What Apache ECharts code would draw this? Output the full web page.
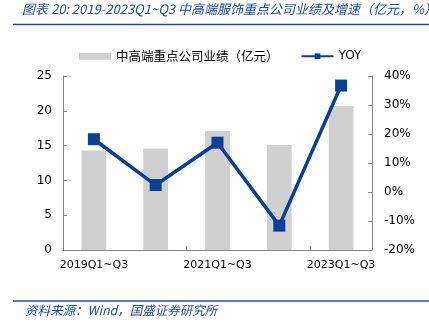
<!DOCTYPE html>
<html>
<head>
<meta charset="utf-8">
<style>
  html, body { margin: 0; padding: 0; background: #fff; }
  #chart { width: 429px; height: 326px; }
</style>
<script src="https://cdn.jsdelivr.net/npm/echarts@6/dist/echarts.min.js"></script>
</head>
<body>
<div id="chart"></div>
<script>
// Periods (Q1~Q3 of each year)
const categories = ['2019Q1~Q3', '2020Q1~Q3', '2021Q1~Q3', '2022Q1~Q3', '2023Q1~Q3'];
// Net profit of key mid/high-end apparel companies, 100 million yuan
const profit = [14.3, 14.6, 17.1, 15.1, 20.7];
// Year-over-year growth, %
const yoy = [18.2, 2.4, 17.0, -11.6, 36.7];

const leftTicks = [0, 25, 5];     // min, max, interval
const rightTicks = [-20, 40, 10];

const blue = '#0a3f96';
const headBlue = '#1f4ea0';
const axisFont = { fontFamily: 'DejaVu Sans', fontSize: 11, color: '#000' };

const chart = echarts.init(document.getElementById('chart'));
chart.setOption({
  animation: false,
  backgroundColor: '#fff',
  grid: { left: 63, right: 57, top: 76, bottom: 76 },
  legend: {
    top: 50,
    left: 79,
    padding: 0,
    itemGap: 22,
    textStyle: { fontFamily: 'Noto Sans CJK SC', fontSize: 12.5, color: '#000' },
    data: [
      { name: '中高端重点公司业绩（亿元）', icon: 'rect', itemStyle: { color: '#d0d0d0' } },
      { name: 'YOY', textStyle: { fontFamily: 'DejaVu Sans', fontSize: 12 } }
    ],
    itemWidth: 32,
    itemHeight: 7
  },
  xAxis: {
    type: 'category',
    data: categories,
    axisLine: { lineStyle: { color: '#888', width: 1 } },
    axisTick: { show: true, inside: true, length: 4, lineStyle: { color: '#888' } },
    axisLabel: { ...axisFont, interval: 1, margin: 10 }
  },
  yAxis: [
    {
      type: 'value',
      min: leftTicks[0], max: leftTicks[1], interval: leftTicks[2],
      splitLine: { show: false },
      axisLine: { show: true, lineStyle: { color: '#888' } },
      axisTick: { show: true, inside: true, length: 4, lineStyle: { color: '#888' } },
      axisLabel: { ...axisFont, fontSize: 12, margin: 11 }
    },
    {
      type: 'value',
      min: rightTicks[0], max: rightTicks[1], interval: rightTicks[2],
      splitLine: { show: false },
      axisLine: { show: true, lineStyle: { color: '#888' } },
      axisTick: { show: true, inside: true, length: 4, lineStyle: { color: '#888' } },
      axisLabel: { ...axisFont, fontSize: 12, margin: 12, formatter: '{value}%' }
    }
  ],
  series: [
    {
      name: '中高端重点公司业绩（亿元）',
      type: 'bar',
      data: profit,
      barWidth: '40%',
      itemStyle: { color: '#d0d0d0' }
    },
    {
      name: 'YOY',
      type: 'line',
      yAxisIndex: 1,
      data: yoy,
      symbol: 'rect',
      symbolSize: 12,
      lineStyle: { color: blue, width: 3.5 },
      itemStyle: { color: blue }
    }
  ],
  graphic: [
    {
      type: 'text', left: 22, top: 3,
      style: {
        text: '图表 20: 2019-2023Q1~Q3 中高端服饰重点公司业绩及增速（亿元，%）',
        font: 'italic 13px "Noto Sans CJK SC"',
        fill: headBlue
      }
    },
    {
      type: 'line',
      shape: { x1: 13, y1: 24.5, x2: 429, y2: 24.5 },
      style: { stroke: headBlue, lineWidth: 1.5 }
    },
    {
      type: 'line',
      shape: { x1: 13, y1: 301, x2: 429, y2: 301 },
      style: { stroke: headBlue, lineWidth: 1.5 }
    },
    {
      type: 'text', left: 25, top: 304,
      style: {
        text: '资料来源：Wind，国盛证券研究所',
        font: 'italic 12.5px "Noto Sans CJK SC"',
        fill: headBlue
      }
    }
  ]
});
</script>
</body>
</html>
